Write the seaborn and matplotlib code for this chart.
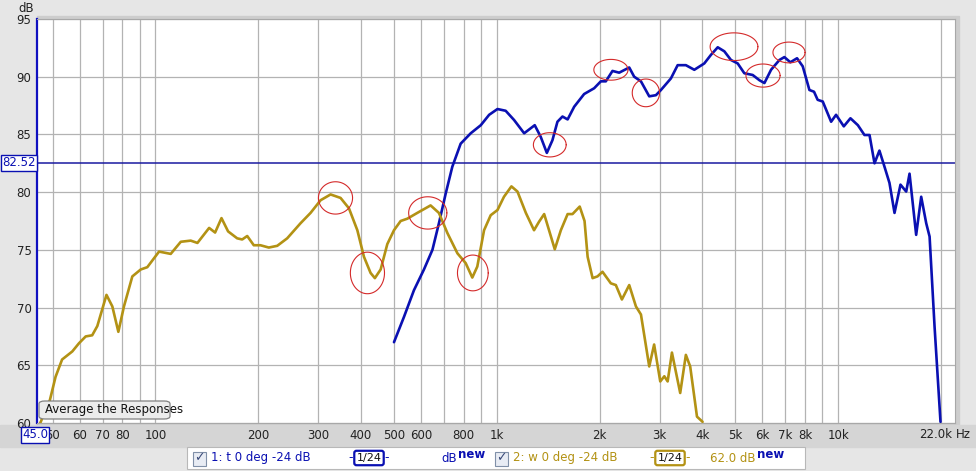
import numpy as np
import pandas as pd
import matplotlib.pyplot as plt
import seaborn as sns
from matplotlib.patches import Rectangle, FancyBboxPatch

# --- data (Hz, dB) ---
woofer_hz = [46, 49.1, 51.0, 53.3, 57.1, 59.7, 62.5, 65.3, 67.6, 71.9, 74.8, 77.9, 80.9,
             85.6, 90.6, 94.7, 102.5, 110.9, 118.7, 126.9, 132.8, 143.7, 149.6, 156.2,
             163.3, 173.6, 179.6, 185.8, 194.2, 203.1, 214.9, 227.5, 243.3, 266.1, 284.8,
             304.8, 326, 348.7, 369, 390.5, 408.3, 427, 439.5, 457, 478, 500, 523, 547,
             585, 640, 677, 717, 767, 811, 848, 877, 918, 960, 1005, 1050, 1104, 1150,
             1217, 1286, 1331, 1377, 1423, 1479, 1541, 1613, 1667, 1750, 1808, 1846,
             1909, 1973, 2041, 2159, 2233, 2326, 2444, 2557, 2645, 2797, 2891, 3013,
             3097, 3167, 3260, 3447, 3581, 3687, 3860, 4009]
woofer_db = [60.0, 62.0, 64.0, 65.5, 66.2, 66.9, 67.5, 67.6, 68.4, 71.1, 70.1, 67.9, 70.1,
             72.7, 73.3, 73.5, 74.85, 74.65, 75.7, 75.8, 75.6, 76.9, 76.5, 77.75,
             76.6, 76.0, 75.9, 76.2, 75.4, 75.4, 75.2, 75.35, 76.0, 77.3, 78.2,
             79.3, 79.8, 79.5, 78.6, 76.7, 74.4, 73.0, 72.55, 73.3, 75.5, 76.7, 77.5, 77.7,
             78.2, 78.85, 78.2, 76.45, 74.7, 73.85, 72.6, 73.55, 76.7, 78.0, 78.45, 79.6, 80.5, 80.05,
             78.2, 76.7, 77.45, 78.1, 76.7, 75.05, 76.7, 78.1, 78.1, 78.75, 77.5, 74.4,
             72.55, 72.7, 73.1, 72.1, 71.95, 70.7, 71.95, 70.1, 69.4, 64.9, 66.8, 63.6,
             64.05, 63.6, 66.1, 62.6, 65.9, 64.9, 60.55, 60.1]

tweeter_hz = [500, 535, 572, 612, 648, 677, 709, 741, 784, 839, 898, 950, 1005, 1062, 1124,
              1203, 1292, 1345, 1402, 1456, 1506, 1558, 1613, 1686, 1803, 1929, 2018, 2087,
              2183, 2284, 2444, 2527, 2645, 2797, 2926, 3027, 3237, 3388, 3581, 3791, 4055,
              4243, 4440, 4642, 4854, 5080, 5312, 5620, 5880, 6083, 6362, 6731, 6960, 7245,
              7580, 7877, 8240, 8500, 8710, 9016, 9539, 9863, 10391, 10867, 11427, 11945,
              12360, 12783, 13213, 13674, 14140, 14630, 15230, 15830, 16190, 16930, 17515,
              18120, 18535, 19167, 19950]
tweeter_db = [67.0, 69.2, 71.5, 73.3, 75.0, 77.3, 79.9, 82.2, 84.2, 85.1, 85.8, 86.7, 87.2, 87.05, 86.25,
              85.1, 85.8, 84.8, 83.4, 84.5, 86.1, 86.55, 86.3, 87.4, 88.5, 89.0, 89.6, 89.6,
              90.5, 90.35, 90.8, 90.0, 89.6, 88.3, 88.4, 88.85, 89.85, 91.0, 91.0, 90.6, 91.15,
              91.9, 92.55, 92.2, 91.45, 91.15, 90.3, 90.15, 89.7, 89.45, 90.6, 91.45, 91.7, 91.25,
              91.6, 90.9, 88.85, 88.7, 88.0, 87.85, 86.1, 86.7, 85.7, 86.4, 85.8, 84.95,
              84.95, 82.5, 83.6, 82.2, 80.8, 78.2, 80.65, 80.05, 81.6, 76.3, 79.6,
              77.3, 76.15, 68.35, 60.1]

# hand drawn red circles: centre Hz, centre dB, half width (decades), half height (dB)
circle_hz = [337, 418, 628, 851, 1430, 2160, 2735, 4955, 6026, 7180]
circle_db = [79.5, 73.0, 78.2, 73.0, 84.1, 90.6, 88.6, 92.6, 90.1, 92.1]
circle_w = [0.05, 0.05, 0.056, 0.045, 0.048, 0.05, 0.04, 0.07, 0.05, 0.047]
circle_h = [1.4, 1.8, 1.4, 1.55, 1.05, 0.9, 1.2, 1.2, 1.0, 0.9]

grid_hz = [50, 60, 70, 80, 90, 100, 200, 300, 400, 500, 600, 700, 800, 900,
           1000, 2000, 3000, 4000, 5000, 6000, 7000, 8000, 9000, 10000, 20000]
grid_labels = ['50', '60', '70', '80', '', '100', '200', '300', '400', '500', '600', '', '800', '',
               '1k', '2k', '3k', '4k', '5k', '6k', '7k', '8k', '', '10k', '']
y_ticks = [60, 65, 70, 75, 80, 85, 90, 95]
marker_db = 82.52

BLUE = '#0a10b2'
GOLD = '#b39214'
W, H = 976, 471

sns.set_style('white')
plt.rcParams['font.family'] = ['DejaVu Sans']

df = pd.concat([
    pd.DataFrame({'hz': tweeter_hz, 'db': tweeter_db, 'trace': 't'}),
    pd.DataFrame({'hz': woofer_hz, 'db': woofer_db, 'trace': 'w'}),
])

fig = plt.figure(figsize=(W / 100, H / 100), dpi=100, facecolor='#e6e6e6')

def px(x, y):
    return x / W, 1 - y / H

# shadow behind plot area and label strip (drawn under the axes)
fig.patches.append(Rectangle(px(37, 425), 922 / W, 409 / H, transform=fig.transFigure,
                             color='#cdcdcd', zorder=-2))
fig.patches.append(Rectangle(px(0, 447), 1, 22 / H, transform=fig.transFigure,
                             color='#d5d5d5', zorder=-2))

ax = fig.add_axes([37 / W, 1 - 423 / H, 918 / W, 404 / H])
ax.set_zorder(1)
ax.set_facecolor('white')

sns.lineplot(data=df, x='hz', y='db', hue='trace', palette={'t': BLUE, 'w': GOLD},
             estimator=None, linewidth=1.9, legend=False, ax=ax, zorder=3)

ax.axhline(marker_db, color='#1a1aa0', lw=1.1, zorder=2)

t = np.linspace(0, 2 * np.pi, 80)
for fc, dc, w, h in zip(circle_hz, circle_db, circle_w, circle_h):
    ax.plot(fc * 10 ** (w * np.cos(t)), dc + h * np.sin(t), color='#d42a2a', lw=0.8, zorder=4)

ax.set_xscale('log')
ax.set_xlim(45, 22000)
ax.set_ylim(60, 95)
ax.set_xticks(grid_hz)
ax.set_xticklabels(grid_labels)
ax.xaxis.set_minor_locator(plt.NullLocator())
ax.set_yticks(y_ticks)
ax.tick_params(axis='both', length=0, labelsize=8.5, colors='#222222')
ax.tick_params(axis='x', pad=4.5)
ax.tick_params(axis='y', pad=4)
ax.grid(True, color='#b3b3b3', lw=0.9)
ax.set_xlabel('')
ax.set_ylabel('')
for side in ['top', 'right', 'bottom']:
    ax.spines[side].set_color('#a8a8a8')
ax.spines['left'].set_color('#1010c0')
ax.spines['left'].set_linewidth(1.6)

# axis annotations
fig.text(*px(26, 9), 'dB', fontsize=8.5, ha='center', va='center', color='#222222')
fig.text(*px(19, 163), f'{marker_db:.2f}', fontsize=8.5, ha='center', va='center', color=BLUE,
         bbox=dict(boxstyle='square,pad=0.12', fc='white', ec=BLUE, lw=1))
fig.text(*px(35, 435), '45.0', fontsize=8.5, ha='center', va='center', color=BLUE, zorder=5,
         bbox=dict(boxstyle='square,pad=0.1', fc='white', ec=BLUE, lw=1))
fig.text(*px(952, 435), '22.0k', fontsize=8.5, ha='right', va='center', color='#222222')
fig.text(*px(956, 435), 'Hz', fontsize=8.5, ha='left', va='center', color='#222222')

# "Average the Responses" button
fig.patches.append(FancyBboxPatch(px(39, 419), 131 / W, 18 / H, transform=fig.transFigure,
                                  boxstyle='round,pad=0,rounding_size=0.006',
                                  fc='#ececec', ec='#808080', lw=0.9, zorder=5))
fig.text(*px(45, 410), 'Average the Responses', fontsize=8.5, ha='left', va='center',
         color='#111111', zorder=6)

# legend strip
fig.patches.append(Rectangle(px(187, 469), 618 / W, 22 / H, transform=fig.transFigure,
                             fc='white', ec='#b8b8b8', lw=0.8, zorder=1))
for x0, label, col, box_x in [(193, '1: t 0 deg -24 dB', BLUE, 369),
                              (495, '2: w 0 deg -24 dB', GOLD, 670)]:
    fig.patches.append(Rectangle(px(x0, 466), 13 / W, 14 / H, transform=fig.transFigure,
                                 fc='#e8ecf4', ec='#8090a8', lw=0.8, zorder=2))
    fig.text(*px(x0 + 6.5, 458), '✓', fontsize=9, ha='center', va='center', color='#3a4a78',
             fontweight='bold', zorder=3)
    fig.text(*px(x0 + 18, 458), label, fontsize=8.5, ha='left', va='center', color=col, zorder=3)
    fig.text(*px(box_x, 458), '1/24', fontsize=8, ha='center', va='center', color='#111111',
             bbox=dict(boxstyle='round,pad=0.2', fc='white', ec=col, lw=1.6), zorder=3)
    fig.text(*px(box_x - 18, 458), '-', fontsize=9, ha='center', va='center', color=col, zorder=3)
    fig.text(*px(box_x + 18, 458), '-', fontsize=9, ha='center', va='center', color=col, zorder=3)

fig.text(*px(457, 458), 'dB', fontsize=8.5, ha='right', va='center', color=BLUE)
fig.text(*px(458, 455), 'new', fontsize=8.5, ha='left', va='center', color=BLUE, fontweight='bold')
fig.text(*px(756, 458), '62.0 dB', fontsize=8.5, ha='right', va='center', color=GOLD)
fig.text(*px(757, 455), 'new', fontsize=8.5, ha='left', va='center', color=BLUE, fontweight='bold')

fig.savefig('out.png', dpi=100, facecolor=fig.get_facecolor())
